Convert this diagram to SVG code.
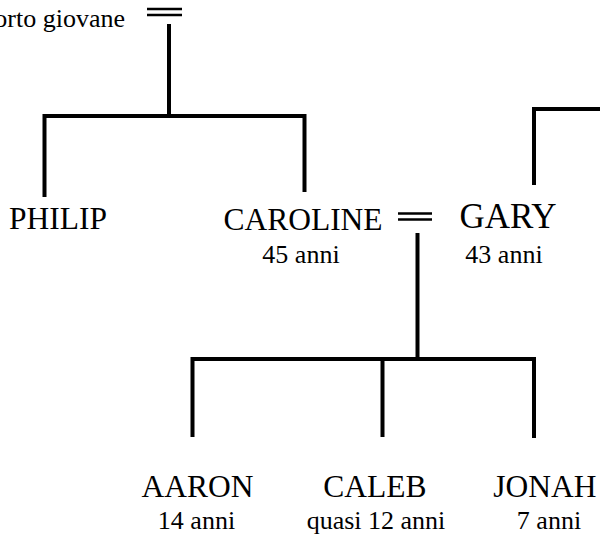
<svg xmlns="http://www.w3.org/2000/svg" width="600" height="537" viewBox="0 0 600 537">
<style>
.ln{stroke:#000;stroke-width:4;fill:none;stroke-linecap:butt;stroke-linejoin:miter}
.eq{stroke:#000;stroke-width:2.6;fill:none}
.nm{font-family:"Liberation Serif","Times New Roman",serif;font-size:31.5px;fill:#000;text-anchor:middle}
.ag{font-family:"Liberation Serif","Times New Roman",serif;font-size:26px;fill:#000;text-anchor:middle}
</style>
<rect width="600" height="537" fill="#fff"/>
<g id="connectors">
<line class="eq" x1="147" y1="9" x2="182" y2="9"/>
<line class="eq" x1="147" y1="15" x2="182" y2="15"/>
<line class="ln" x1="169" y1="24" x2="169" y2="116"/>
<path class="ln" d="M44.5 197 V116 H304.5 V192"/>
<path class="ln" d="M534 185 V109 H602"/>
<line class="eq" x1="398" y1="213.5" x2="432" y2="213.5"/>
<line class="eq" x1="398" y1="219.5" x2="432" y2="219.5"/>
<line class="ln" x1="417.5" y1="233" x2="417.5" y2="359"/>
<path class="ln" d="M192.5 437 V359 H534 V438"/>
<line class="ln" x1="382.5" y1="359" x2="382.5" y2="437"/>
</g>
<g id="parent">
<text x="125" y="27" font-family="Liberation Serif, Times New Roman, serif" font-size="26" text-anchor="end">morto giovane</text>
</g>
<g id="philip"><text class="nm" x="58" y="229">PHILIP</text></g>
<g id="caroline"><text class="nm" x="303" y="230">CAROLINE</text><text class="ag" x="301" y="263">45 anni</text></g>
<g id="gary"><text class="nm" x="508" y="228" style="font-size:35px">GARY</text><text class="ag" x="504" y="263">43 anni</text></g>
<g id="aaron"><text class="nm" x="197.5" y="497">AARON</text><text class="ag" x="196.5" y="529">14 anni</text></g>
<g id="caleb"><text class="nm" x="375" y="497">CALEB</text><text class="ag" x="376" y="529">quasi 12 anni</text></g>
<g id="jonah"><text class="nm" x="545" y="497">JONAH</text><text class="ag" x="549" y="529">7 anni</text></g>
</svg>
